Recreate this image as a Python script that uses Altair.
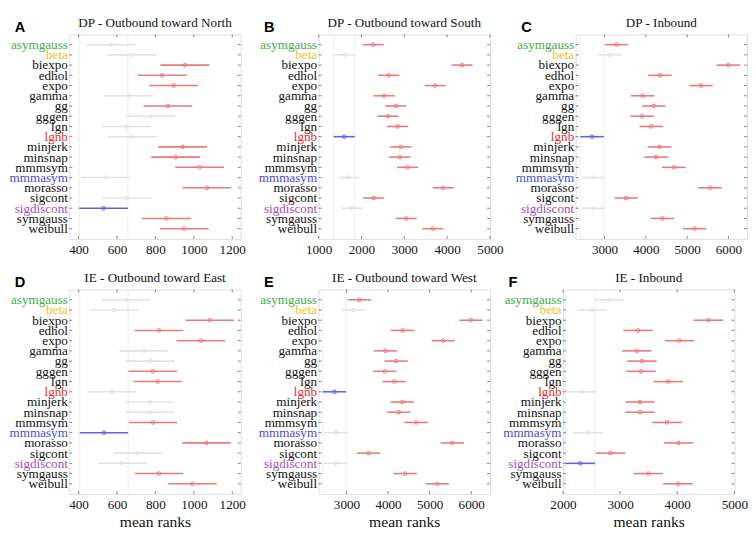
import altair as alt
import pandas as pd

categories = ["asymgauss", "beta", "biexpo", "edhol", "expo", "gamma", "gg", "gggen",
              "lgn", "lgnb", "minjerk", "minsnap", "mmmsym", "mmmasym", "morasso",
              "sigcont", "sigdiscont", "symgauss", "weibull"]

letters = ["A", "B", "C", "D", "E", "F"]
titles = ["DP - Outbound toward North", "DP - Outbound toward South", "DP - Inbound",
          "IE - Outbound toward East", "IE - Outbound toward West", "IE - Inbound"]

# mean ranks per panel
means_A = [568, 677, 953, 835, 895, 660, 865, 775, 648, 680, 942, 905, 1030, 540, 1068, 652, 530, 857, 950]
means_B = [2273, 1614, 4348, 2636, 3720, 2530, 2803, 2621, 2841, 1598, 2917, 2894, 3076, 1697, 3909, 2288, 1780, 3045, 3667]
means_C = [3290, 3133, 6000, 4341, 5336, 3921, 4192, 3911, 4131, 2696, 4332, 4248, 4675, 2729, 5556, 3523, 2729, 4402, 5182]
means_D = [647, 584, 1083, 819, 1036, 739, 774, 786, 812, 574, 771, 772, 788, 532, 1066, 707, 627, 819, 993]
means_E = [3308, 3162, 5993, 4350, 5329, 3933, 4194, 3917, 4148, 2713, 4342, 4257, 4674, 2745, 5546, 3532, 2737, 4412, 5183]
means_F = [2809, 2506, 4545, 3315, 4039, 3292, 3382, 3365, 3843, 2326, 3348, 3348, 3820, 2438, 4022, 2831, 2303, 3494, 4011]

# half width of comparison interval per panel
halves = [127, 246, 285, 126, 280, 258]

# g = not significantly different, r = significantly different, b = selected group
status_A = "g g r r r g r g g g r r r g r g b r r".split()
status_B = "r g r r r r r r r b r r r g r r g r r".split()
status_C = "r g r r r r r r r b r r r g r r g r r".split()
status_D = "g g r r r g g r r g g g r b r g g r r".split()
status_E = "r g r r r r r r r b r r r g r r g r r".split()
status_F = "g g r r r r r r r g r r r g r r b r r".split()

domains = [[352, 1244], [1000, 5000], [2300, 6450], [352, 1244], [2330, 6450], [2000, 5000]]
ticks = [[400, 600, 800, 1000, 1200], [1000, 2000, 3000, 4000, 5000], [3000, 4000, 5000, 6000],
         [400, 600, 800, 1000, 1200], [3000, 4000, 5000, 6000], [2000, 3000, 4000, 5000]]

means = [means_A, means_B, means_C, means_D, means_E, means_F]
statuses = [status_A, status_B, status_C, status_D, status_E, status_F]

label_colors = {"asymgauss": "#3dae4a", "beta": "#f2c21c", "lgnb": "#e2302f",
                "mmmasym": "#4b4bd4", "sigdiscont": "#a24fb0"}

SERIF = "'Liberation Serif', 'Times New Roman', Times, 'DejaVu Serif', serif"
SANS = "'Liberation Sans', Arial, 'DejaVu Sans', sans-serif"
W, H = 176, 210
RED, GRAY, BLUE = "#e97a7a", "#e2e2e2", "#6262e6"
TICKC = "#666666"

label_expr = ""
for k, v in label_colors.items():
    label_expr += f"datum.value == '{k}' ? '{v}' : "
label_expr += "'#111111'"


def panel(i, bottom):
    df = pd.DataFrame({"cat": categories, "m": means[i], "s": statuses[i]})
    h = halves[i]
    df["lo"] = df["m"] - h
    df["hi"] = df["m"] + h
    sel = df[df["s"] == "b"].iloc[0]
    ref = pd.DataFrame({"x": [sel["lo"], sel["hi"]]})
    tdf = pd.DataFrame({"t": ticks[i]})
    hdf = pd.DataFrame({"l": [letters[i]], "t": [titles[i]]})

    xs = alt.Scale(domain=domains[i], nice=False, zero=False)
    ys = alt.Scale(type="point", padding=1, domain=categories)
    ax_kw = dict(values=ticks[i], grid=False, ticks=False, domain=False, labelFont=SERIF,
                 labelFontSize=13.5, labelPadding=4, labelColor="#111111", format="d",
                 labelFlush=False)
    if bottom:
        ax_kw.update(title="mean ranks", titleFont=SERIF, titleFontSize=16,
                     titleFontWeight="normal", titlePadding=3, titleColor="#111111")
    else:
        ax_kw.update(title="")
    xaxis = alt.Axis(**ax_kw)
    yaxis = alt.Axis(title="", ticks=False, domain=False, grid=False, labelFont=SERIF,
                     labelFontSize=13.5, labelPadding=2, minExtent=60, maxExtent=60,
                     labelColor=alt.ExprRef(expr=label_expr))
    Y = alt.Y("cat:N", scale=ys, axis=yaxis, sort=categories)
    color = alt.Color("s:N", scale=alt.Scale(domain=["g", "r", "b"], range=[GRAY, RED, BLUE]),
                      legend=None)

    vr = alt.Chart(ref).mark_rule(color="#ececec", strokeWidth=1).encode(
        x=alt.X("x:Q", scale=xs, axis=xaxis))
    bars = alt.Chart(df).mark_rule(strokeWidth=1.6).encode(
        y=Y, x=alt.X("lo:Q", scale=xs, axis=xaxis), x2="hi:Q", color=color)
    pts = alt.Chart(df).mark_point(shape="circle", filled=False, size=14, strokeWidth=1,
                                   opacity=1).encode(
        y=Y, x=alt.X("m:Q", scale=xs, axis=xaxis), color=color)
    tl = alt.Chart(df).mark_rule(color=TICKC, strokeWidth=0.8).encode(
        y=Y, x=alt.value(0), x2=alt.value(3))
    tr = alt.Chart(df).mark_rule(color=TICKC, strokeWidth=0.8).encode(
        y=Y, x=alt.value(W - 3), x2=alt.value(W))
    tb = alt.Chart(tdf).mark_rule(color=TICKC, strokeWidth=0.8).encode(
        x=alt.X("t:Q", scale=xs, axis=xaxis), y=alt.value(H - 3), y2=alt.value(H))
    tt = alt.Chart(tdf).mark_rule(color=TICKC, strokeWidth=0.8).encode(
        x=alt.X("t:Q", scale=xs, axis=xaxis), y=alt.value(0), y2=alt.value(3))
    let = alt.Chart(hdf).mark_text(font=SANS, fontWeight="bold", fontSize=15,
                                   align="left", baseline="middle", color="#000000").encode(
        x=alt.value(-56), y=alt.value(-8), text="l:N")
    ttl = alt.Chart(hdf).mark_text(font=SERIF, fontSize=13.5, align="center",
                                   baseline="middle", color="#111111").encode(
        x=alt.value(W / 2), y=alt.value(-12), text="t:N")

    return alt.layer(vr, bars, pts, tl, tr, tb, tt, let, ttl).properties(width=W, height=H)


row1 = alt.hconcat(panel(0, False), panel(1, False), panel(2, False), spacing=11)
row2 = alt.hconcat(panel(3, True), panel(4, True), panel(5, True), spacing=11)
chart = alt.vconcat(row1, row2, spacing=14).properties(padding=0).configure_view(
    stroke="#8c8c8c", strokeWidth=1).configure(background="white")

chart.save("out.html", embed_options={"renderer": "svg", "actions": False})
